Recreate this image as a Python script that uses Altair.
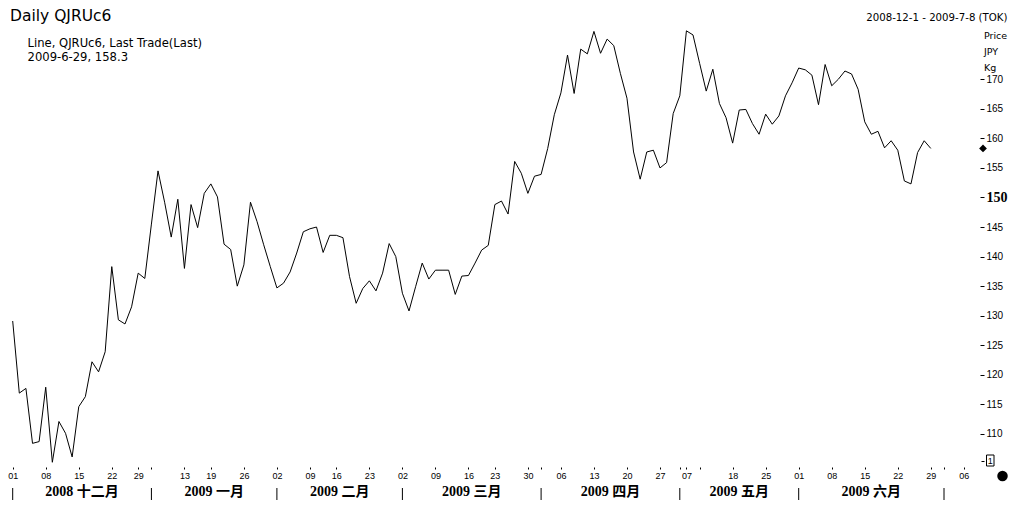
import altair as alt
import pandas as pd

# Daily last-trade price (JPY / kg), one value per Tokyo trading day, 2008-12-01 .. 2009-06-29
price = [129.1, 116.9, 117.7, 108.4, 108.7, 117.9, 105.2, 112.1, 110.1, 106.1,
         114.6, 116.3, 122.2, 120.5, 123.9, 138.3, 129.3, 128.6, 131.5, 137.2,
         136.3, 145.5, 154.5, 149.2, 143.3, 149.7, 138.0, 148.8, 144.9, 150.7,
         152.3, 150.1, 142.1, 141.2, 135.0, 138.6, 149.2, 145.9, 142.0, 138.3,
         134.7, 135.5, 137.4, 140.6, 144.2, 144.7, 145.0, 140.7, 143.6, 143.6,
         143.2, 136.6, 132.1, 134.6, 135.9, 134.2, 137.2, 142.2, 140.0, 133.8,
         130.8, 134.9, 138.9, 136.2, 137.7, 137.7, 137.7, 133.6, 136.7, 136.8,
         138.9, 141.1, 141.9, 148.8, 149.4, 147.2, 156.1, 154.1, 150.7, 153.6,
         153.9, 158.3, 164.0, 167.7, 174.1, 167.6, 175.1, 174.3, 178.1, 174.4,
         176.8, 175.7, 171.0, 166.8, 157.7, 153.1, 157.7, 158.0, 155.0, 155.9,
         164.2, 167.2, 178.2, 177.5, 172.7, 168.0, 171.7, 165.9, 163.5, 159.2,
         164.8, 164.9, 162.5, 160.7, 164.1, 162.4, 163.8, 167.2, 169.4, 171.9,
         171.6, 170.7, 165.7, 172.5, 168.9, 170.0, 171.4, 170.9, 168.3, 162.8,
         160.7, 161.2, 158.4, 159.6, 158.0, 152.8, 152.3, 157.6, 159.6, 158.3]

# Day tick marks (trading-day index) and their labels ('' = tick without label)
tick_idx = [0, 5, 10, 15, 19, 21, 26, 30, 35, 40, 45, 49, 54, 59, 64, 69, 73, 78,
            80, 83, 88, 93, 98, 101, 102, 104, 109, 114, 119, 124, 129, 134, 139, 141, 144]
tick_lab = ["01", "08", "15", "22", "29", "", "13", "19", "26", "02", "09", "16", "23",
            "02", "09", "16", "23", "30", "", "06", "13", "20", "27", "", "07", "",
            "18", "25", "01", "08", "15", "22", "29", "", "06"]

# Month boundaries (trading-day index) and month names
month_sep = [0, 21, 40, 59, 80, 101, 119, 141]
month_names = ["2008 十二月", "2009 一月", "2009 二月", "2009 三月",
               "2009 四月", "2009 五月", "2009 六月"]

y_ticks = [110, 115, 120, 125, 130, 135, 140, 145, 150, 155, 160, 165, 170]

title = "Daily QJRUc6"
legend1 = "Line, QJRUc6, Last Trade(Last)"
legend2 = "2009-6-29, 158.3"
range_txt = "2008-12-1 - 2009-7-8 (TOK)"
unit_lines = ["Price", "JPY", "Kg"]

W, H = 972, 459
xscale = alt.Scale(domain=[-0.712, 146.45], nice=False, zero=False)
yscale = alt.Scale(domain=[104.40, 182.06], nice=False, zero=False)

df = pd.DataFrame({"idx": list(range(len(price))), "price": price})

lab_arr = "[" + ",".join("'%s'" % s for s in tick_lab) + "]"
idx_arr = "[" + ",".join(str(i) for i in tick_idx) + "]"

x_axis = alt.Axis(values=tick_idx, labelExpr=lab_arr + "[indexof(" + idx_arr + ", datum.value)]",
                  tickSize=2, tickColor="black", domain=False, grid=False, title=None,
                  labelFont="Liberation Sans", labelFontSize=9, labelColor="black",
                  labelPadding=2.5, labelFlush=False, labelOverlap=False, labelBound=False)

y_axis = alt.Axis(orient="right", values=y_ticks, tickSize=4, tickColor="black",
                  domain=False, grid=False, title=None, labelPadding=2,
                  labelColor="black", labelFlush=False, labelOverlap=False,
                  labelFont={"condition": {"test": "datum.value == 150", "value": "Liberation Serif"},
                             "value": "Liberation Sans"},
                  labelFontSize={"condition": {"test": "datum.value == 150", "value": 14},
                                 "value": 10},
                  labelFontWeight={"condition": {"test": "datum.value == 150", "value": "bold"},
                                   "value": "normal"})

line = alt.Chart(df).mark_line(color="black", strokeWidth=1).encode(
    x=alt.X("idx:Q", scale=xscale, axis=x_axis),
    y=alt.Y("price:Q", scale=yscale, axis=y_axis),
)

last = alt.Chart(df.tail(1)).mark_point(shape="diamond", filled=True, size=60,
                                        color="black", opacity=1).encode(
    x=alt.value(975),
    y=alt.Y("price:Q", scale=yscale, axis=y_axis),
)

sep_df = pd.DataFrame({"idx": month_sep})
seps = alt.Chart(sep_df).mark_rule(color="black", strokeWidth=1).encode(
    x=alt.X("idx:Q", scale=xscale, axis=x_axis),
    y=alt.value(480), y2=alt.value(492),
)

mdf = pd.DataFrame({
    "idx": [(month_sep[k] + month_sep[k + 1]) / 2 for k in range(len(month_names))],
    "name": month_names,
})
months = alt.Chart(mdf).mark_text(font="Liberation Serif, Noto Sans CJK SC", fontSize=14,
                                  fontWeight="bold", color="black", baseline="middle",
                                  align="center").encode(
    x=alt.X("idx:Q", scale=xscale, axis=x_axis),
    y=alt.value(484),
    text="name:N",
)


def fixed_text(txt, x, y, size, align="left", font="DejaVu Sans", weight="normal"):
    return alt.Chart(alt.Data(values=[{}])).mark_text(
        text=txt, align=align, baseline="alphabetic", font=font, fontSize=size,
        fontWeight=weight, color="black"
    ).encode(x=alt.value(x), y=alt.value(y))


texts = [
    fixed_text(title, 2, 12.7, 15.5),
    fixed_text(legend1, 19.5, 39, 11.6),
    fixed_text(legend2, 19.5, 53, 11.6),
    fixed_text(range_txt, 999.5, 13, 10.2, align="right"),
    fixed_text(unit_lines[0], 976, 31, 9.5),
    fixed_text(unit_lines[1], 976, 47, 9.5),
    fixed_text(unit_lines[2], 976, 62.5, 9.5),
]

box = alt.Chart(alt.Data(values=[{}])).mark_rect(fill="white", stroke="black",
                                                 strokeWidth=1).encode(
    x=alt.value(978.5), x2=alt.value(986), y=alt.value(447), y2=alt.value(458))
box_txt = fixed_text("1", 982.3, 456, 9, align="center", font="Liberation Sans")
dash = alt.Chart(alt.Data(values=[{}])).mark_rule(color="black", strokeWidth=1).encode(
    x=alt.value(973.5), x2=alt.value(976.5), y=alt.value(453.5))
dot = alt.Chart(alt.Data(values=[{}])).mark_point(shape="circle", filled=True, size=110,
                                                  color="black", opacity=1).encode(
    x=alt.value(994.5), y=alt.value(468))

chart = alt.layer(line, last, seps, months, *texts, box, box_txt, dash, dot).properties(
    width=W, height=H,
    autosize=alt.AutoSizeParams(type="none"),
    padding={"left": 0, "top": 0, "right": 28, "bottom": 46},
    background="white",
).configure_view(strokeWidth=0)

chart.save("out.html", embed_options={"renderer": "svg", "actions": False})
